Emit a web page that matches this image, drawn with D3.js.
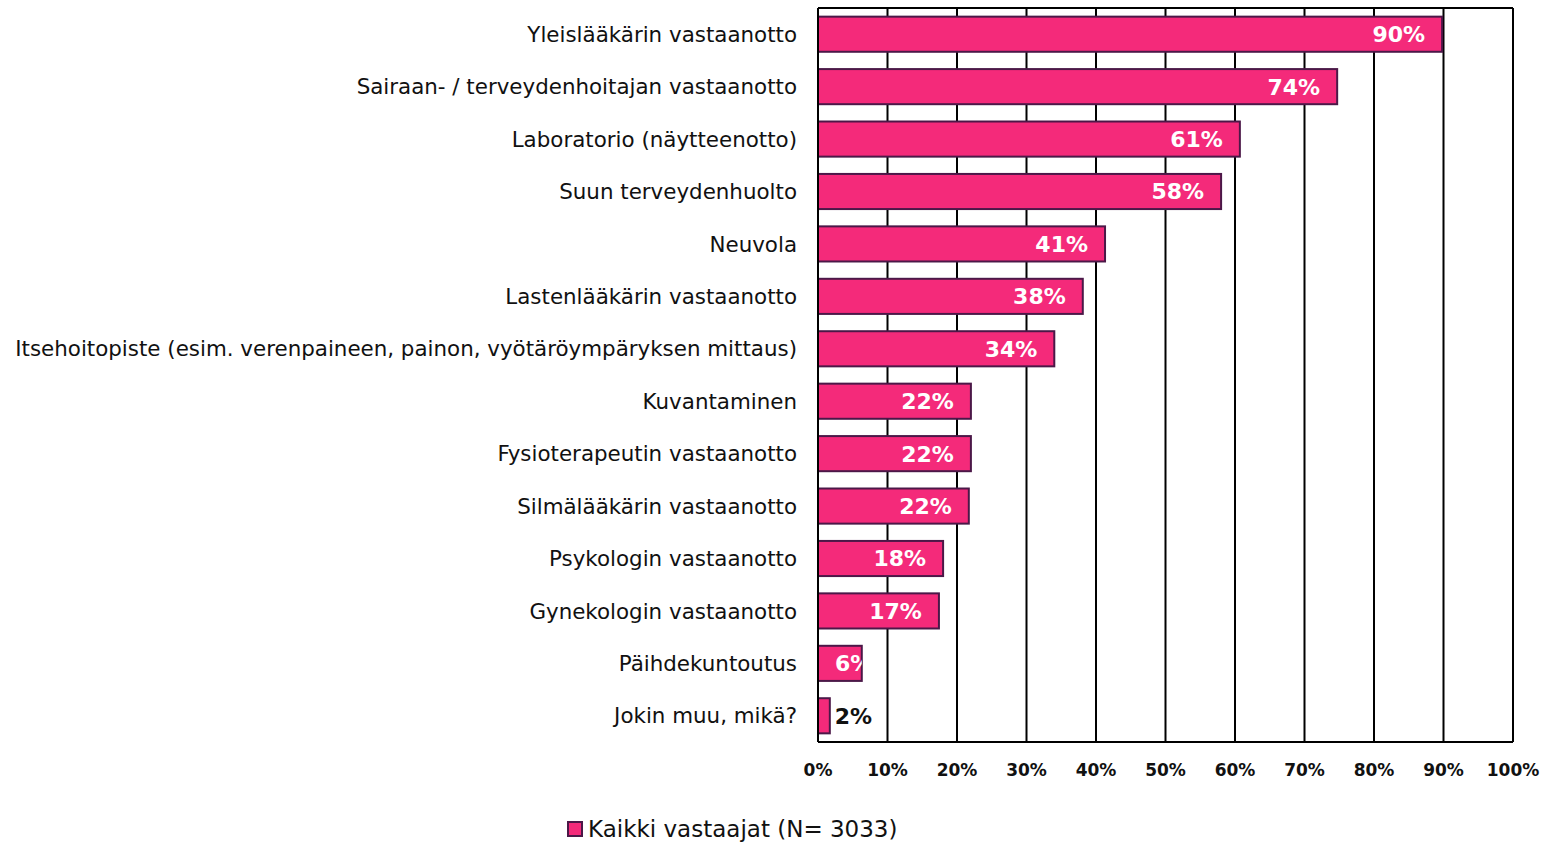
<!DOCTYPE html>
<html>
<head>
<meta charset="utf-8">
<script src="https://cdn.jsdelivr.net/npm/d3@7"></script>
<style>
  body { margin: 0; background: #fff; }
  text { font-family: "DejaVu Sans", Verdana, sans-serif; }
</style>
</head>
<body>
<script>
const categories = [
  "Yleislääkärin vastaanotto",
  "Sairaan- / terveydenhoitajan vastaanotto",
  "Laboratorio (näytteenotto)",
  "Suun terveydenhuolto",
  "Neuvola",
  "Lastenlääkärin vastaanotto",
  "Itsehoitopiste (esim. verenpaineen, painon, vyötäröympäryksen mittaus)",
  "Kuvantaminen",
  "Fysioterapeutin vastaanotto",
  "Silmälääkärin vastaanotto",
  "Psykologin vastaanotto",
  "Gynekologin vastaanotto",
  "Päihdekuntoutus",
  "Jokin muu, mikä?"
];
const values = [89.8, 74.7, 60.7, 58.0, 41.3, 38.1, 34.0, 22.0, 22.0, 21.7, 18.0, 17.4, 6.3, 1.7];
const valueLabels = ["90%", "74%", "61%", "58%", "41%", "38%", "34%", "22%", "22%", "22%", "18%", "17%", "6%", "2%"];
const xTicks = [0, 10, 20, 30, 40, 50, 60, 70, 80, 90, 100];
const seriesName = "Kaikki vastaajat (N= 3033)";

const width = 1554, height = 843;
const margin = { top: 8, right: 41, bottom: 101, left: 818 };
const fill = "#f42a7a", edge = "#4b1848";

const svg = d3.select("body").append("svg")
  .attr("width", width).attr("height", height);

const x = d3.scaleLinear().domain([0, 100]).range([margin.left, width - margin.right]);
const y = d3.scaleBand().domain(categories)
  .range([margin.top, height - margin.bottom])
  .paddingInner(0.33).paddingOuter(0.165);

// gridlines
svg.append("g").selectAll("line")
  .data(xTicks.slice(1))
  .join("line")
    .attr("x1", d => x(d)).attr("x2", d => x(d))
    .attr("y1", margin.top).attr("y2", height - margin.bottom)
    .attr("stroke", "#000").attr("stroke-width", 2);
svg.append("line")
  .attr("x1", x(0)).attr("x2", x(100))
  .attr("y1", margin.top).attr("y2", margin.top)
  .attr("stroke", "#000").attr("stroke-width", 2);

// bars
const defs = svg.append("defs");
categories.forEach((c, i) => {
  defs.append("clipPath").attr("id", "clip" + i)
    .append("rect")
      .attr("x", x(0)).attr("y", y(c))
      .attr("width", x(values[i]) - x(0)).attr("height", y.bandwidth());
});

svg.append("g").selectAll("rect")
  .data(categories)
  .join("rect")
    .attr("x", x(0))
    .attr("y", d => y(d))
    .attr("width", (d, i) => x(values[i]) - x(0))
    .attr("height", y.bandwidth())
    .attr("fill", fill)
    .attr("stroke", edge).attr("stroke-width", 2);

// axes lines
svg.append("line")
  .attr("x1", x(0)).attr("x2", x(100))
  .attr("y1", height - margin.bottom).attr("y2", height - margin.bottom)
  .attr("stroke", "#000").attr("stroke-width", 2);
svg.append("line")
  .attr("x1", x(0)).attr("x2", x(0))
  .attr("y1", margin.top).attr("y2", height - margin.bottom)
  .attr("stroke", "#000").attr("stroke-width", 2);

// value labels
const lbl = svg.append("g");
categories.forEach((c, i) => {
  const end = x(values[i]);
  const cy = y(c) + y.bandwidth() / 2;
  if (values[i] < 3) {
    lbl.append("text")
      .attr("x", end + 5).attr("y", cy).attr("dy", "0.36em")
      .attr("font-size", 22).attr("font-weight", "bold").attr("fill", "#111")
      .text(valueLabels[i]);
  } else if (values[i] < 10) {
    lbl.append("text")
      .attr("x", x(0) + 17).attr("y", cy).attr("dy", "0.36em")
      .attr("clip-path", `url(#clip${i})`)
      .attr("font-size", 22).attr("font-weight", "bold").attr("fill", "#fff")
      .text(valueLabels[i]);
  } else {
    lbl.append("text")
      .attr("x", end - 17).attr("y", cy).attr("dy", "0.36em")
      .attr("text-anchor", "end")
      .attr("font-size", 22).attr("font-weight", "bold").attr("fill", "#fff")
      .text(valueLabels[i]);
  }
});

// category labels
svg.append("g").selectAll("text")
  .data(categories)
  .join("text")
    .attr("x", x(0) - 21)
    .attr("y", d => y(d) + y.bandwidth() / 2)
    .attr("dy", "0.36em")
    .attr("text-anchor", "end")
    .attr("font-size", 21.4).attr("fill", "#111")
    .text(d => d);

// x tick labels
svg.append("g").selectAll("text")
  .data(xTicks)
  .join("text")
    .attr("x", d => x(d))
    .attr("y", height - margin.bottom + 34)
    .attr("text-anchor", "middle")
    .attr("font-size", 17).attr("font-weight", "bold").attr("fill", "#111")
    .text(d => d + "%");

// legend
const leg = svg.append("g").attr("transform", "translate(568,822)");
leg.append("rect").attr("width", 14).attr("height", 14)
  .attr("fill", fill).attr("stroke", edge).attr("stroke-width", 2);
leg.append("text").attr("x", 20).attr("y", 7).attr("dy", "0.36em")
  .attr("font-size", 23).attr("fill", "#111")
  .text(seriesName);
</script>
</body>
</html>
